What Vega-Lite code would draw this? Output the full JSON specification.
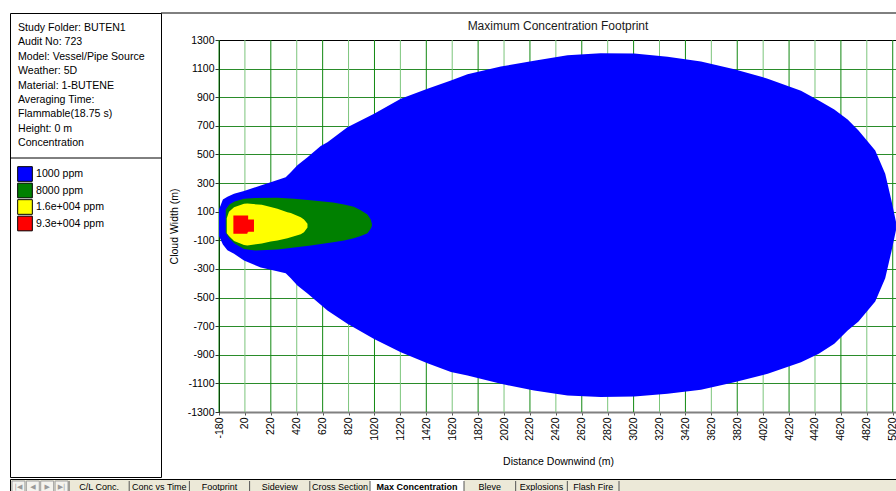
{
  "$schema": "https://vega.github.io/schema/vega-lite/v6.json",
  "padding": {"left": 9, "top": 12, "right": 0, "bottom": 0},
  "background": "white",
  "config": {
    "view": {"stroke": null},
    "font": "Liberation Sans",
    "concat": {"spacing": 0}
  },
  "datasets": {
    "info": [
      {"line": 1, "text": "Study Folder: BUTEN1"},
      {"line": 2, "text": "Audit No: 723"},
      {"line": 3, "text": "Model: Vessel/Pipe Source"},
      {"line": 4, "text": "Weather: 5D"},
      {"line": 5, "text": "Material: 1-BUTENE"},
      {"line": 6, "text": "Averaging Time:"},
      {"line": 7, "text": "Flammable(18.75 s)"},
      {"line": 8, "text": "Height: 0 m"},
      {"line": 9, "text": "Concentration"}
    ],
    "legend": [
      {"level": "1000 ppm"},
      {"level": "8000 ppm"},
      {"level": "1.6e+004 ppm"},
      {"level": "9.3e+004 ppm"}
    ],
    "gridlines": [
      {"distance": -180, "upper": 1300, "lower": -1300},
      {"distance": 20, "upper": 1300, "lower": -1300},
      {"distance": 220, "upper": 1300, "lower": -1300},
      {"distance": 420, "upper": 1300, "lower": -1300},
      {"distance": 620, "upper": 1300, "lower": -1300},
      {"distance": 820, "upper": 1300, "lower": -1300},
      {"distance": 1020, "upper": 1300, "lower": -1300},
      {"distance": 1220, "upper": 1300, "lower": -1300},
      {"distance": 1420, "upper": 1300, "lower": -1300},
      {"distance": 1620, "upper": 1300, "lower": -1300},
      {"distance": 1820, "upper": 1300, "lower": -1300},
      {"distance": 2020, "upper": 1300, "lower": -1300},
      {"distance": 2220, "upper": 1300, "lower": -1300},
      {"distance": 2420, "upper": 1300, "lower": -1300},
      {"distance": 2620, "upper": 1300, "lower": -1300},
      {"distance": 2820, "upper": 1300, "lower": -1300},
      {"distance": 3020, "upper": 1300, "lower": -1300},
      {"distance": 3220, "upper": 1300, "lower": -1300},
      {"distance": 3420, "upper": 1300, "lower": -1300},
      {"distance": 3620, "upper": 1300, "lower": -1300},
      {"distance": 3820, "upper": 1300, "lower": -1300},
      {"distance": 4020, "upper": 1300, "lower": -1300},
      {"distance": 4220, "upper": 1300, "lower": -1300},
      {"distance": 4420, "upper": 1300, "lower": -1300},
      {"distance": 4620, "upper": 1300, "lower": -1300},
      {"distance": 4820, "upper": 1300, "lower": -1300},
      {"distance": 5020, "upper": 1300, "lower": -1300}
    ],
    "footprint": [
      {"level": "1000 ppm", "distance": -180, "upper": 115, "lower": -70},
      {"level": "1000 ppm", "distance": -150, "upper": 185, "lower": -130},
      {"level": "1000 ppm", "distance": -115, "upper": 205, "lower": -170},
      {"level": "1000 ppm", "distance": -64, "upper": 225, "lower": -194},
      {"level": "1000 ppm", "distance": 13, "upper": 245, "lower": -241},
      {"level": "1000 ppm", "distance": 142, "upper": 283, "lower": -290},
      {"level": "1000 ppm", "distance": 219, "upper": 306, "lower": -305},
      {"level": "1000 ppm", "distance": 335, "upper": 341, "lower": -330},
      {"level": "1000 ppm", "distance": 374, "upper": 376, "lower": -365},
      {"level": "1000 ppm", "distance": 425, "upper": 425, "lower": -416},
      {"level": "1000 ppm", "distance": 503, "upper": 481, "lower": -472},
      {"level": "1000 ppm", "distance": 605, "upper": 560, "lower": -550},
      {"level": "1000 ppm", "distance": 657, "upper": 586, "lower": -590},
      {"level": "1000 ppm", "distance": 811, "upper": 690, "lower": -684},
      {"level": "1000 ppm", "distance": 1017, "upper": 784, "lower": -789},
      {"level": "1000 ppm", "distance": 1223, "upper": 889, "lower": -882},
      {"level": "1000 ppm", "distance": 1429, "upper": 959, "lower": -960},
      {"level": "1000 ppm", "distance": 1610, "upper": 1017, "lower": -1020},
      {"level": "1000 ppm", "distance": 1738, "upper": 1060, "lower": -1045},
      {"level": "1000 ppm", "distance": 1995, "upper": 1115, "lower": -1103},
      {"level": "1000 ppm", "distance": 2252, "upper": 1155, "lower": -1150},
      {"level": "1000 ppm", "distance": 2510, "upper": 1193, "lower": -1185},
      {"level": "1000 ppm", "distance": 2765, "upper": 1208, "lower": -1196},
      {"level": "1000 ppm", "distance": 3025, "upper": 1205, "lower": -1192},
      {"level": "1000 ppm", "distance": 3282, "upper": 1183, "lower": -1173},
      {"level": "1000 ppm", "distance": 3540, "upper": 1150, "lower": -1145},
      {"level": "1000 ppm", "distance": 3797, "upper": 1095, "lower": -1092},
      {"level": "1000 ppm", "distance": 4055, "upper": 1030, "lower": -1033},
      {"level": "1000 ppm", "distance": 4312, "upper": 945, "lower": -952},
      {"level": "1000 ppm", "distance": 4449, "upper": 877, "lower": -893},
      {"level": "1000 ppm", "distance": 4569, "upper": 815, "lower": -823},
      {"level": "1000 ppm", "distance": 4672, "upper": 745, "lower": -730},
      {"level": "1000 ppm", "distance": 4756, "upper": 667, "lower": -667},
      {"level": "1000 ppm", "distance": 4885, "upper": 528, "lower": -528},
      {"level": "1000 ppm", "distance": 4962, "upper": 365, "lower": -365},
      {"level": "1000 ppm", "distance": 5010, "upper": 178, "lower": -178},
      {"level": "1000 ppm", "distance": 5045, "upper": 30, "lower": -30},
      {"level": "8000 ppm", "distance": -128, "upper": 115, "lower": -45},
      {"level": "8000 ppm", "distance": -100, "upper": 150, "lower": -85},
      {"level": "8000 ppm", "distance": -60, "upper": 172, "lower": -122},
      {"level": "8000 ppm", "distance": 13, "upper": 190, "lower": -160},
      {"level": "8000 ppm", "distance": 100, "upper": 196, "lower": -171},
      {"level": "8000 ppm", "distance": 271, "upper": 197, "lower": -165},
      {"level": "8000 ppm", "distance": 400, "upper": 190, "lower": -150},
      {"level": "8000 ppm", "distance": 528, "upper": 180, "lower": -136},
      {"level": "8000 ppm", "distance": 700, "upper": 165, "lower": -113},
      {"level": "8000 ppm", "distance": 785, "upper": 150, "lower": -101},
      {"level": "8000 ppm", "distance": 860, "upper": 135, "lower": -85},
      {"level": "8000 ppm", "distance": 914, "upper": 110, "lower": -70},
      {"level": "8000 ppm", "distance": 966, "upper": 80, "lower": -50},
      {"level": "8000 ppm", "distance": 991, "upper": 45, "lower": -20},
      {"level": "8000 ppm", "distance": 1000, "upper": 15, "lower": 0},
      {"level": "1.6e+004 ppm", "distance": -120, "upper": 55, "lower": -50},
      {"level": "1.6e+004 ppm", "distance": -103, "upper": 100, "lower": -70},
      {"level": "1.6e+004 ppm", "distance": -64, "upper": 131, "lower": -105},
      {"level": "1.6e+004 ppm", "distance": 13, "upper": 155, "lower": -133},
      {"level": "1.6e+004 ppm", "distance": 39, "upper": 157, "lower": -136},
      {"level": "1.6e+004 ppm", "distance": 150, "upper": 148, "lower": -122},
      {"level": "1.6e+004 ppm", "distance": 219, "upper": 133, "lower": -108},
      {"level": "1.6e+004 ppm", "distance": 271, "upper": 120, "lower": -101},
      {"level": "1.6e+004 ppm", "distance": 348, "upper": 96, "lower": -85},
      {"level": "1.6e+004 ppm", "distance": 374, "upper": 90, "lower": -78},
      {"level": "1.6e+004 ppm", "distance": 451, "upper": 62, "lower": -58},
      {"level": "1.6e+004 ppm", "distance": 476, "upper": 45, "lower": -43},
      {"level": "1.6e+004 ppm", "distance": 503, "upper": 15, "lower": -10},
      {"level": "9.3e+004 ppm", "distance": -69, "upper": 73, "lower": -55},
      {"level": "9.3e+004 ppm", "distance": 13, "upper": 73, "lower": -55},
      {"level": "9.3e+004 ppm", "distance": 39, "upper": 73, "lower": -45},
      {"level": "9.3e+004 ppm", "distance": 45, "upper": 45, "lower": -40},
      {"level": "9.3e+004 ppm", "distance": 90, "upper": 15, "lower": -20}
    ],
    "tabs": [
      {"tab": "C/L Conc.", "group": "left"},
      {"tab": "Conc vs Time", "group": "left"},
      {"tab": "Footprint", "group": "left"},
      {"tab": "Sideview", "group": "left"},
      {"tab": "Cross Section", "group": "left"},
      {"tab": "Max Concentration", "group": "active"},
      {"tab": "Bleve", "group": "right"},
      {"tab": "Explosions", "group": "right"},
      {"tab": "Flash Fire", "group": "right"}
    ],
    "buttons": [
      {"button": "first", "symbol": "|◀"},
      {"button": "prev", "symbol": "◀"},
      {"button": "next", "symbol": "▶"},
      {"button": "last", "symbol": "▶|"}
    ]
  },
  "spacing": 0,
  "vconcat": [
    {
      "spacing": 0,
      "bounds": "flush",
      "hconcat": [
        {
          "width": 151,
          "height": 464,
          "view": {"stroke": "black", "strokeWidth": 1},
          "resolve": {"scale": {"y": "independent"}},
          "layer": [
            {
              "data": {"name": "info"},
              "mark": {"type": "text", "align": "left", "baseline": "middle", "fontSize": 10.6, "color": "black"},
              "encoding": {
                "y": {"field": "line", "type": "ordinal", "scale": {"type": "point", "range": [14.7, 130.3], "padding": 0}, "axis": null},
                "x": {"value": 8},
                "text": {"field": "text"}
              }
            },
            {
              "data": {"values": [{}]},
              "mark": {"type": "rule", "color": "black", "strokeWidth": 1},
              "encoding": {"y": {"value": 145}}
            },
            {
              "data": {"name": "legend"},
              "encoding": {
                "y": {"field": "level", "type": "nominal", "sort": null, "scale": {"type": "point", "range": [161, 210.5], "padding": 0}, "axis": null}
              },
              "layer": [
                {
                  "mark": {"type": "square", "size": 215, "filled": true, "opacity": 1, "stroke": "black", "strokeWidth": 1},
                  "encoding": {
                    "x": {"value": 15},
                    "color": {"field": "level", "type": "nominal", "legend": null,
                      "scale": {"domain": ["1000 ppm", "8000 ppm", "1.6e+004 ppm", "9.3e+004 ppm"], "range": ["#0000ff", "#008000", "#ffff00", "#ff0000"]}}
                  }
                },
                {
                  "mark": {"type": "text", "align": "left", "baseline": "middle", "fontSize": 10.6, "color": "black"},
                  "encoding": {"x": {"value": 26}, "text": {"field": "level"}}
                }
              ]
            }
          ]
        },
        {
          "width": 736,
          "height": 399,
          "title": {"text": "Maximum Concentration Footprint", "fontSize": 12, "fontWeight": "normal", "color": "#1a1a1a", "offset": 0, "dy": 20, "dx": 29, "frame": "group", "anchor": "middle"},
          "layer": [
            {
              "encoding": {
                "x": {
                  "field": "distance", "type": "quantitative",
                  "scale": {"domain": [-180, 5053], "range": [58, 736], "nice": false, "zero": false},
                  "axis": {
                    "values": [-180, 20, 220, 420, 620, 820, 1020, 1220, 1420, 1620, 1820, 2020, 2220, 2420, 2620, 2820, 3020, 3220, 3420, 3620, 3820, 4020, 4220, 4420, 4620, 4820, 5020],
                    "labelAngle": 270,
                    "labelExpr": "'' + datum.value",
                    "labelFontSize": 10.5,
                    "labelColor": "black",
                    "labelPadding": 2,
                    "labelOverlap": false,
                    "labelFlush": false,
                    "tickSize": 3,
                    "tickColor": "#555555",
                    "domainColor": "#808080",
                    "domainWidth": 2,
                    "grid": false,
                    "title": "Distance Downwind (m)",
                    "titleFontSize": 10.5,
                    "titleFontWeight": "normal",
                    "titleColor": "black",
                    "titleX": 397,
                    "titleY": 49,
                    "titleAlign": "center",
                    "titleBaseline": "middle"
                  }
                },
                "y": {
                  "field": "upper", "type": "quantitative",
                  "scale": {"domain": [-1300, 1300], "range": [399, 27], "nice": false, "zero": false},
                  "axis": {
                    "offset": -58,
                    "values": [-1300, -1100, -900, -700, -500, -300, -100, 100, 300, 500, 700, 900, 1100, 1300],
                    "labelExpr": "'' + datum.value",
                    "labelFontSize": 10.5,
                    "labelColor": "black",
                    "labelPadding": 1,
                    "labelOverlap": false,
                    "labelFlush": false,
                    "tickSize": 4,
                    "tickColor": "#333333",
                    "domainColor": "black",
                    "domainWidth": 1,
                    "grid": true,
                    "gridColor": {"condition": {"test": "datum.value == 1300", "value": "black"}, "value": "#2a8c2a"},
                    "gridOpacity": 1,
                    "gridWidth": 1,
                    "title": "Cloud Width (m)",
                    "titleFontSize": 10.5,
                    "titleFontWeight": "normal",
                    "titleColor": "black",
                    "titleAngle": 270,
                    "titleX": -45,
                    "titleY": 213,
                    "titleAlign": "center",
                    "titleBaseline": "middle"
                  }
                },
                "y2": {"field": "lower"}
              },
              "layer": [
                {
                  "data": {"name": "gridlines"},
                  "mark": {"type": "rule", "strokeWidth": 1},
                  "encoding": {
                    "color": {"condition": {"test": "(datum.distance + 180) % 400 == 0", "value": "#118811"}, "value": "#7cc57c"}
                  }
                },
                {
                  "data": {"name": "footprint"},
                  "encoding": {
                    "color": {"field": "level", "type": "nominal", "legend": null,
                      "scale": {"domain": ["1000 ppm", "8000 ppm", "1.6e+004 ppm", "9.3e+004 ppm"], "range": ["#0000ff", "#008000", "#ffff00", "#ff0000"]}}
                  },
                  "layer": [
                    {"transform": [{"filter": "datum.level == '1000 ppm'"}], "mark": {"type": "area", "opacity": 1, "interpolate": "linear"}},
                    {"transform": [{"filter": "datum.level == '8000 ppm'"}], "mark": {"type": "area", "opacity": 1, "interpolate": "linear"}},
                    {"transform": [{"filter": "datum.level == '1.6e+004 ppm'"}], "mark": {"type": "area", "opacity": 1, "interpolate": "linear"}},
                    {"transform": [{"filter": "datum.level == '9.3e+004 ppm'"}], "mark": {"type": "area", "opacity": 1, "interpolate": "step-after"}}
                  ]
                }
              ]
            },
            {
              "data": {"values": [{}]},
              "mark": {"type": "rule", "color": "black", "strokeWidth": 1},
              "encoding": {"y": {"value": 0}}
            }
          ]
        }
      ]
    },
    {
      "width": 887,
      "height": 15,
      "view": {"fill": "#ece9d8", "stroke": "black", "strokeWidth": 1},
      "resolve": {"scale": {"x": "independent"}},
      "layer": [
        {
          "data": {"name": "tabs"},
          "transform": [{"filter": "datum.group == 'left'"}],
          "encoding": {
            "x": {"field": "tab", "type": "nominal", "sort": null, "scale": {"type": "band", "range": [59, 360], "paddingInner": 0, "paddingOuter": 0}, "axis": null}
          },
          "layer": [
            {
              "mark": {"type": "rule", "color": "#555555", "strokeWidth": 1},
              "encoding": {"x": {"field": "tab", "type": "nominal", "sort": null, "bandPosition": 0}, "y": {"value": 2}, "y2": {"value": 15}}
            },
            {
              "mark": {"type": "text", "align": "center", "baseline": "middle", "fontSize": 9, "color": "black"},
              "encoding": {"x": {"field": "tab", "type": "nominal", "sort": null, "bandPosition": 0.5}, "y": {"value": 8}, "text": {"field": "tab"}}
            }
          ]
        },
        {
          "data": {"name": "tabs"},
          "transform": [{"filter": "datum.group == 'active'"}],
          "encoding": {
            "x": {"field": "tab", "type": "nominal", "sort": null, "scale": {"type": "band", "range": [360, 454], "paddingInner": 0, "paddingOuter": 0}, "axis": null}
          },
          "layer": [
            {
              "mark": {"type": "rect", "color": "white"},
              "encoding": {"y": {"value": 1}, "y2": {"value": 15}}
            },
            {
              "mark": {"type": "rule", "color": "#555555", "strokeWidth": 1},
              "encoding": {"x": {"field": "tab", "type": "nominal", "sort": null, "bandPosition": 0}, "y": {"value": 2}, "y2": {"value": 15}}
            },
            {
              "mark": {"type": "text", "align": "center", "baseline": "middle", "fontSize": 9, "fontWeight": "bold", "color": "black"},
              "encoding": {"x": {"field": "tab", "type": "nominal", "sort": null, "bandPosition": 0.5}, "y": {"value": 8}, "text": {"field": "tab"}}
            }
          ]
        },
        {
          "data": {"name": "tabs"},
          "transform": [{"filter": "datum.group == 'right'"}],
          "encoding": {
            "x": {"field": "tab", "type": "nominal", "sort": null, "scale": {"type": "band", "range": [454, 609], "paddingInner": 0, "paddingOuter": 0}, "axis": null}
          },
          "layer": [
            {
              "mark": {"type": "rule", "color": "#555555", "strokeWidth": 1},
              "encoding": {"x": {"field": "tab", "type": "nominal", "sort": null, "bandPosition": 0}, "y": {"value": 2}, "y2": {"value": 15}}
            },
            {
              "transform": [{"filter": "datum.tab == 'Flash Fire'"}],
              "mark": {"type": "rule", "color": "#555555", "strokeWidth": 1},
              "encoding": {"x": {"field": "tab", "type": "nominal", "sort": null, "bandPosition": 1}, "y": {"value": 2}, "y2": {"value": 15}}
            },
            {
              "mark": {"type": "text", "align": "center", "baseline": "middle", "fontSize": 9, "color": "black"},
              "encoding": {"x": {"field": "tab", "type": "nominal", "sort": null, "bandPosition": 0.5}, "y": {"value": 8}, "text": {"field": "tab"}}
            }
          ]
        },
        {
          "data": {"name": "buttons"},
          "encoding": {
            "x": {"field": "button", "type": "nominal", "sort": null, "scale": {"type": "band", "range": [2, 58], "paddingInner": 0.1, "paddingOuter": 0}, "axis": null}
          },
          "layer": [
            {
              "mark": {"type": "rect", "fill": "#f4f3ee", "stroke": "#a0a0a0", "strokeWidth": 1},
              "encoding": {"y": {"value": 2}, "y2": {"value": 14}}
            },
            {
              "mark": {"type": "text", "align": "center", "baseline": "middle", "fontSize": 7, "font": "DejaVu Sans", "color": "#9a9a9a"},
              "encoding": {"x": {"field": "button", "type": "nominal", "sort": null, "bandPosition": 0.5}, "y": {"value": 8}, "text": {"field": "symbol"}}
            }
          ]
        }
      ]
    }
  ]
}
